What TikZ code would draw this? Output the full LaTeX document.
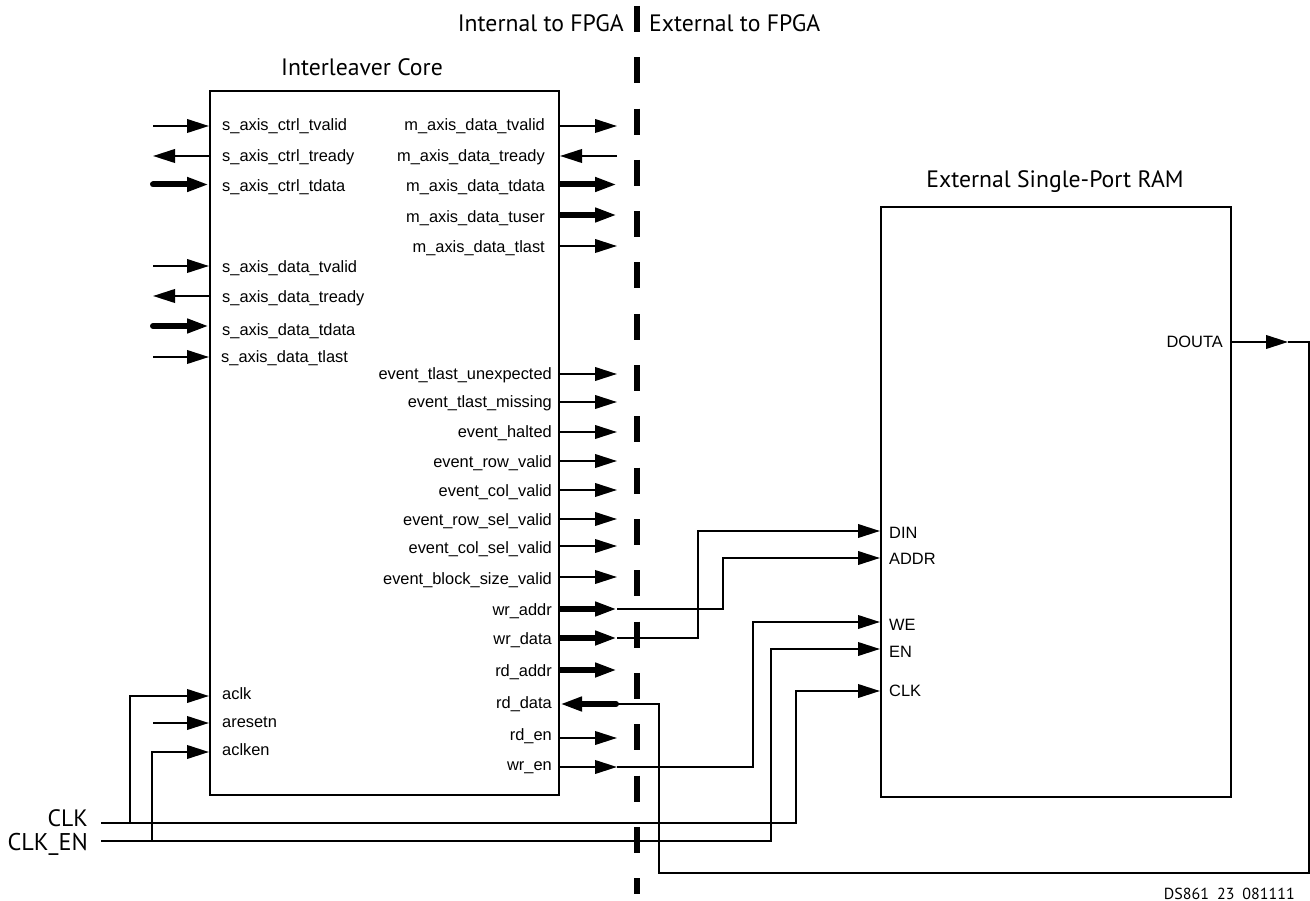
\documentclass[tikz,border=0pt]{standalone}
\usepackage{fontspec}
\setmainfont{Liberation Sans}
\newfontfamily\headfont{PT Sans}
\usetikzlibrary{arrows.meta}
\tikzset{
  lbl/.style={inner sep=0pt,anchor=base west,font=\fontsize{16.4}{18}\selectfont},
  lblr/.style={inner sep=0pt,anchor=base east,font=\fontsize{16.4}{18}\selectfont},
  head/.style={inner sep=0pt,font=\headfont\fontsize{23.7}{26}\selectfont},
  boxs/.style={draw=black,line width=2.2pt,fill=none,inner sep=0pt,outer sep=0pt,anchor=north west},
  tipa/.tip={Triangle[length=22pt,width=13.5pt]},
  thinw/.style={line width=2.2pt,-tipa},
  thickw/.style={line width=6pt,line cap=round,-tipa},
  wire/.style={line width=2.2pt},
  fence/.style={line width=6pt,dash pattern=on 26pt off 25.3pt}
}
\begin{document}
\begin{tikzpicture}[x=1pt,y=-1pt]
\useasboundingbox (0,0) rectangle (1310,901);
% boxes
\node[boxs,minimum width=349pt,minimum height=704pt] (core) at (210,91) {};
\node[boxs,minimum width=350pt,minimum height=590pt] (ram) at (881,207) {};
% fence
\coordinate (ft) at (637,6);
\coordinate (fb) at (637,894);
\draw[fence] (ft) -- (fb);
% headings
\node[head,anchor=base east] (hi) at (624,32) {Internal to FPGA};
\node[head,anchor=base west] (he) at (649,32) {External to FPGA};
\node[head,anchor=base] (hc) at (362,76) {Interleaver Core};
\node[head,anchor=base] (hr) at (1055,188) {External Single-Port RAM};
\node[head,anchor=base east] (hclk) at (88,826) {CLK};
\node[head,anchor=base east,font=\headfont\fontsize{24.2}{26}\selectfont] (hen) at (88,850) {CLK\_EN};
\node[inner sep=0pt,anchor=base east,font=\headfont\fontsize{16}{18}\selectfont] (code) at (1295,899) {DS861\hspace{0.5em}23\hspace{0.5em}081111};
% left inputs
\foreach \n/\y/\ty/\t in {a/126/130.5/s\_axis\_ctrl\_tvalid,c/184.5/191.5/s\_axis\_ctrl\_tdata,e/266/272.5/s\_axis\_data\_tvalid,f/326/335.5/s\_axis\_data\_tdata,j/723/727/aresetn}{
  \node[lbl] (l\n) at (222,\ty) {\t};
  \coordinate (s\n) at (153,\y);
  \coordinate (d\n) at (209,\y);
}
\node[lbl] (lh) at (221,362.5) {s\_axis\_data\_tlast};
\coordinate (sh) at (153,357);
\coordinate (dh) at (209,357);
\draw[thinw] (sa) -- (da);
\draw[thickw] (sc) -- (dc);
\draw[thinw] (se) -- (de);
\draw[thickw] (sf) -- (df);
\draw[thinw] (sh) -- (dh);
\draw[thinw] (sj) -- (dj);
% left outputs
\foreach \n/\y/\ty/\t in {b/156/161.5/s\_axis\_ctrl\_tready,g/296/302.5/s\_axis\_data\_tready}{
  \node[lbl] (l\n) at (222,\ty) {\t};
  \coordinate (s\n) at (210,\y);
  \coordinate (d\n) at (153,\y);
  \draw[thinw] (s\n) -- (d\n);
}
% right thin outputs
\foreach \n/\y/\ty/\t in {
 ma/126/130.5/m\_axis\_data\_tvalid,
 me/246/252.5/m\_axis\_data\_tlast}{
  \node[lblr] (l\n) at (545,\ty) {\t};
  \coordinate (s\n) at (559,\y);
  \coordinate (d\n) at (617,\y);
  \draw[thinw] (s\n) -- (d\n);
}
\foreach \n/\y/\ty/\t in {
 e1/374/380/event\_tlast\_unexpected,
 e2/402/408/event\_tlast\_missing,
 e3/432/438/event\_halted,
 e4/461/467/event\_row\_valid,
 e5/490/496/event\_col\_valid,
 e6/519/525/event\_row\_sel\_valid,
 e7/546/553/event\_col\_sel\_valid,
 e8/577/584/event\_block\_size\_valid,
 re/738/740/rd\_en}{
  \node[lblr] (l\n) at (552,\ty) {\t};
  \coordinate (s\n) at (559,\y);
  \coordinate (d\n) at (617,\y);
  \draw[thinw] (s\n) -- (d\n);
}
% right thick outputs
\foreach \n/\y/\ty/\t in {
 mc/184.5/191.5/m\_axis\_data\_tdata,
 md/215/222.5/m\_axis\_data\_tuser}{
  \node[lblr] (l\n) at (545,\ty) {\t};
  \coordinate (s\n) at (559,\y);
  \coordinate (d\n) at (617,\y);
  \draw[thickw,line cap=butt] (s\n) -- (d\n);
}
\foreach \n/\y/\ty/\t in {
 wa/609/615/wr\_addr,
 wd/638/644/wr\_data,
 ra/670/676.5/rd\_addr}{
  \node[lblr] (l\n) at (552,\ty) {\t};
  \coordinate (s\n) at (559,\y);
  \coordinate (d\n) at (617,\y);
  \draw[thickw,line cap=butt] (s\n) -- (d\n);
}
% m_axis_data_tready
\node[lblr] (lmb) at (545,161.5) {m\_axis\_data\_tready};
\coordinate (smb) at (617,156);
\coordinate (dmb) at (560,156);
\draw[thinw] (smb) -- (dmb);
% rd_data
\node[lblr] (lrd) at (552,708) {rd\_data};
\coordinate (srd) at (616,704);
\coordinate (drd) at (560,704);
\draw[thickw] (srd) -- (drd);
% wr_en
\node[lblr] (lwe) at (552,770) {wr\_en};
\coordinate (swe) at (560,767);
\coordinate (dwe) at (617,767);
\draw[thinw] (swe) -- (dwe);
% clock inputs
\node[lbl] (lclk) at (222,699) {aclk};
\node[lbl] (lken) at (222,755) {aclken};
\coordinate (clk0) at (101,823);
\coordinate (en0) at (101,841);
\coordinate (clkt) at (209,696);
\coordinate (ent) at (209,752);
\draw[wire,-tipa] (130,823) |- (clkt);
\draw[wire,-tipa] (152,841) |- (ent);
% RAM ports
\node[lbl] (pdin) at (889,538) {DIN};
\node[lbl] (padd) at (889,564) {ADDR};
\node[lbl] (pwe) at (889,630) {WE};
\node[lbl] (pen) at (889,657.5) {EN};
\node[lbl] (pclk) at (889,696.5) {CLK};
\node[lblr] (pdo) at (1223,347.5) {DOUTA};
\coordinate (rdin) at (880,531);
\coordinate (radd) at (880,558);
\coordinate (rwe) at (880,622);
\coordinate (ren) at (880,649);
\coordinate (rclk) at (880,691);
\coordinate (doS) at (1231,342);
\coordinate (doT) at (1288,342);
\coordinate (doE) at (1309,342);
% connections
\draw[wire,-tipa] (dwd) -| (698,531) -- (rdin);
\draw[wire,-tipa] (dwa) -| (723,558) -- (radd);
\draw[wire,-tipa] (dwe) -| (753,622) -- (rwe);
\draw[wire,-tipa] (clk0) -| (796,691) -- (rclk);
\draw[wire,-tipa] (en0) -| (771,649) -- (ren);
\draw[thinw] (doS) -- (doT);
\draw[wire] (doT) -- (doE) -- (1309,873) -- (659,873) -- (659,704) -- (srd);
\end{tikzpicture}
\end{document}
